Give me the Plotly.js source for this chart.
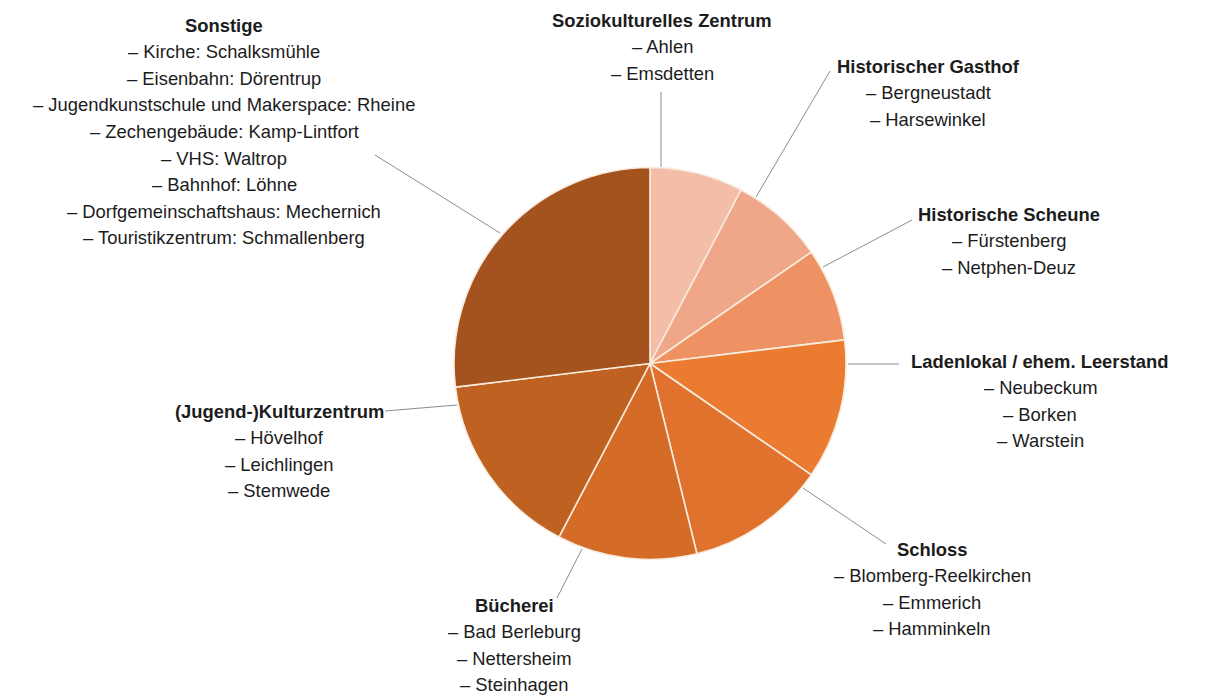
<!DOCTYPE html>
<html>
<head>
<meta charset="utf-8">
<script src="https://cdn.plot.ly/plotly-3.0.1.min.js"></script>
<style>html,body{margin:0;padding:0;background:#fff;}#chart{width:1212px;height:698px;}</style>
</head>
<body>
<div id="chart"></div>
<script>
const categories = [
  "Soziokulturelles Zentrum",
  "Historischer Gasthof",
  "Historische Scheune",
  "Ladenlokal / ehem. Leerstand",
  "Schloss",
  "Bücherei",
  "(Jugend-)Kulturzentrum",
  "Sonstige"
];
const values = [2, 2, 2, 3, 3, 3, 4, 7];
const places = [
  ["Ahlen", "Emsdetten"],
  ["Bergneustadt", "Harsewinkel"],
  ["Fürstenberg", "Netphen-Deuz"],
  ["Neubeckum", "Borken", "Warstein"],
  ["Blomberg-Reelkirchen", "Emmerich", "Hamminkeln"],
  ["Bad Berleburg", "Nettersheim", "Steinhagen"],
  ["Hövelhof", "Leichlingen", "Stemwede"],
  ["Kirche: Schalksmühle", "Eisenbahn: Dörentrup", "Jugendkunstschule und Makerspace: Rheine",
   "Zechengebäude: Kamp-Lintfort", "VHS: Waltrop", "Bahnhof: Löhne",
   "Dorfgemeinschaftshaus: Mechernich", "Touristikzentrum: Schmallenberg"]
];
const colors = ["#F3BDA8", "#F0A688", "#EE9263", "#EB7B30", "#E0722D", "#D46C27", "#BF6120", "#A4531E"];

// layout helpers (pixel positions of label blocks and leader lines)
const W = 1212, H = 698;
const labelPos = [
  [662, 20], [928, 66], [1009, 214], [1040, 361],
  [932, 549], [514, 605], [279, 411], [224, 25]
];
const lineStep = 26.6;
const leaders = [
  [661, 92, 661, 167],
  [830, 71, 756, 197],
  [912, 220, 823, 267],
  [899, 364, 848, 364],
  [886, 544, 803, 488],
  [557, 598, 582, 549],
  [385, 411, 457, 405],
  [375, 155, 500, 233]
];
const px = x => x / W;
const py = y => 1 - y / H;
const fnt = {family: 'Liberation Sans, Arial, sans-serif', size: 18.4, color: '#1c1c1c'};

const annotations = [];
categories.forEach((c, i) => {
  const [cx, cy] = labelPos[i];
  annotations.push({
    xref: 'paper', yref: 'paper', x: px(cx), y: py(cy),
    xanchor: 'center', yanchor: 'middle', showarrow: false,
    text: '<b>' + c + '</b>', font: fnt
  });
  places[i].forEach((p, j) => {
    annotations.push({
      xref: 'paper', yref: 'paper', x: px(cx), y: py(cy + (j + 1) * lineStep),
      xanchor: 'center', yanchor: 'middle', showarrow: false,
      text: '– ' + p, font: fnt
    });
  });
});

const shapes = leaders.map(l => ({
  type: 'line', xref: 'paper', yref: 'paper',
  x0: px(l[0]), y0: py(l[1]), x1: px(l[2]), y1: py(l[3]),
  line: {color: '#8c8c8c', width: 1}
}));

const cx = 650, cy = 363.5, R = 196;
const trace = {
  type: 'pie',
  labels: categories,
  values: values,
  sort: false,
  direction: 'clockwise',
  rotation: 0,
  textinfo: 'none',
  hoverinfo: 'label+value',
  marker: {colors: colors, line: {color: '#F8EBDD', width: 1.6}},
  domain: {x: [px(cx - R), px(cx + R)], y: [py(cy + R), py(cy - R)]},
  showlegend: false
};

Plotly.newPlot('chart', [trace], {
  width: W, height: H,
  margin: {l: 0, r: 0, t: 0, b: 0},
  paper_bgcolor: '#ffffff',
  plot_bgcolor: '#ffffff',
  showlegend: false,
  annotations: annotations,
  shapes: shapes
}, {displayModeBar: false, staticPlot: true});
</script>
</body>
</html>
